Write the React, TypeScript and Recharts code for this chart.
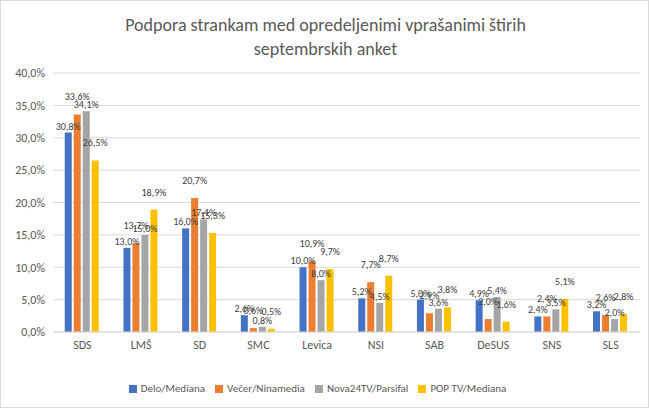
import React from 'react';
import { BarChart, Bar, XAxis, YAxis, CartesianGrid, Legend, LabelList } from 'recharts';

const categories = ['SDS', 'LMŠ', 'SD', 'SMC', 'Levica', 'NSI', 'SAB', 'DeSUS', 'SNS', 'SLS'];
const delo = [30.8, 13.0, 16.0, 2.6, 10.0, 5.2, 5.0, 4.9, 2.4, 3.2];
const vecer = [33.6, 13.7, 20.7, 0.6, 10.9, 7.7, 2.9, 2.0, 2.4, 2.6];
const nova = [34.1, 15.0, 17.4, 0.8, 8.0, 4.5, 3.6, 5.4, 3.5, 2.0];
const pop = [26.5, 18.9, 15.3, 0.5, 9.7, 8.7, 3.8, 1.6, 5.1, 2.8];
const yTicks = [0, 5, 10, 15, 20, 25, 30, 35, 40];

const data = categories.map((c, i) => ({ name: c, delo: delo[i], vecer: vecer[i], nova: nova[i], pop: pop[i] }));
const fmt = (v: number) => v.toFixed(1).replace('.', ',') + '%';
const series = [
  { key: 'delo', name: 'Delo/Mediana', color: '#4472C4', offset: 3 },
  { key: 'vecer', name: 'Večer/Ninamedia', color: '#ED7D31', offset: 14 },
  { key: 'nova', name: 'Nova24TV/Parsifal', color: '#A5A5A5', offset: 3 },
  { key: 'pop', name: 'POP TV/Mediana', color: '#FFC000', offset: 14 },
];

export default function App() {
  return (
    <div style={{ position: 'relative', width: 649, height: 408, fontFamily: 'Calibri, Carlito, "Liberation Sans", Arial, sans-serif', boxSizing: 'border-box', border: '1px solid #d9d9d9', background: '#fff' }}>
      <style>{'body{margin:0}'}</style>
      <div style={{ position: 'absolute', top: 12, left: 0, width: 649, textAlign: 'center', fontSize: 18, color: '#595959', lineHeight: '24px' }}>
        Podpora strankam med opredeljenimi vprašanimi štirih<br />septembrskih anket
      </div>
      <BarChart width={647} height={406} data={data} margin={{ top: 72, right: 8, left: 4, bottom: 40 }} barCategoryGap="20%" barGap={2}>
        <CartesianGrid vertical={false} stroke="#d9d9d9" />
        <XAxis dataKey="name" tickLine={false} axisLine={{ stroke: '#d9d9d9' }} tick={{ fill: '#595959', fontSize: 12 }} height={22} />
        <YAxis domain={[0, 40]} ticks={yTicks} tickFormatter={fmt} axisLine={false} tickLine={false} tick={{ fill: '#595959', fontSize: 12 }} width={48} />
        <Legend verticalAlign="bottom" iconType="square" iconSize={8} itemSorter={null as any}
          formatter={(v: any) => <span style={{ color: '#595959' }}>{v}</span>}
          wrapperStyle={{ fontSize: 11, bottom: 12 }} />
        {series.map(s => (
          <Bar key={s.key} dataKey={s.key} name={s.name} fill={s.color} isAnimationActive={false}>
            <LabelList dataKey={s.key} position="top" offset={s.offset} formatter={(v: any) => fmt(Number(v))} style={{ fill: '#404040', fontSize: 10 }} />
          </Bar>
        ))}
      </BarChart>
    </div>
  );
}
